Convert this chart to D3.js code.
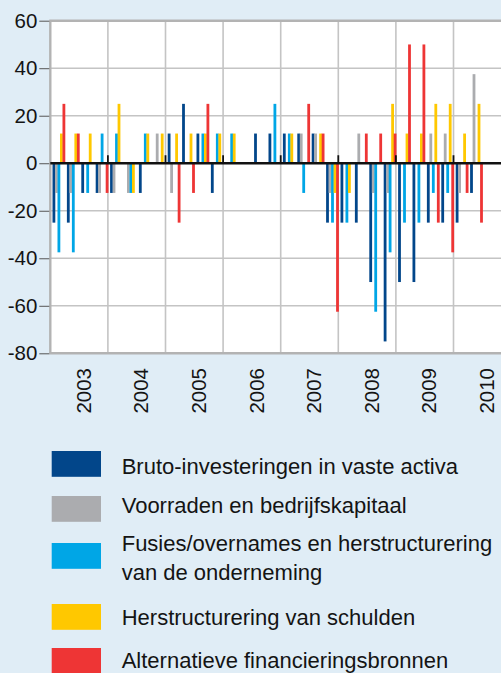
<!DOCTYPE html>
<html>
<head>
<meta charset="utf-8">
<script src="https://cdn.jsdelivr.net/npm/d3@7/dist/d3.min.js"></script>
<style>
  html, body { margin: 0; padding: 0; background: #e0edf6; }
  svg { display: block; }
  text { font-family: "Liberation Sans", Arial, sans-serif; fill: #141414; }
</style>
</head>
<body>
<svg id="chart" width="501" height="673"></svg>
<script>
// ---- data ----
const years = ["2003", "2004", "2005", "2006", "2007", "2008", "2009", "2010"];
const quarterNames = ["Q1", "Q2", "Q3", "Q4"];
const seriesNames = [
  "Bruto-investeringen in vaste activa",
  "Voorraden en bedrijfskapitaal",
  "Fusies/overnames en herstructurering van de onderneming",
  "Herstructurering van schulden",
  "Alternatieve financieringsbronnen"
];
const legendLines = [
  ["Bruto-investeringen in vaste activa"],
  ["Voorraden en bedrijfskapitaal"],
  ["Fusies/overnames en herstructurering", "van de onderneming"],
  ["Herstructurering van schulden"],
  ["Alternatieve financieringsbronnen"]
];
// quarterly values 2003Q1 ... 2010Q2
const brutoInvesteringen = [-25, -25, -12.5, -12.5, -12.5, 0, -12.5, 0, 12.5, 25, 12.5, -12.5, 0, 0, 12.5, 12.5, 12.5, 12.5, 12.5, -25, -25, -25, -50, -75, -50, -50, -25, -25, -25, -12.5];
const voorraden = [-12.5, -12.5, 0, -12.5, -12.5, -12.5, 0, 12.5, -12.5, 0, 0, 0, 0, 0, 0, 0, 0, 12.5, 12.5, -12.5, 0, 12.5, -12.5, -12.5, 0, 0, 12.5, 12.5, -12.5, 37.5];
const fusies = [-37.5, -37.5, -12.5, 12.5, 12.5, -12.5, 12.5, 0, 0, 0, 12.5, 12.5, 12.5, 0, 0, 25, 12.5, -12.5, 0, -25, -25, 0, -62.5, -37.5, -25, -25, -12.5, -12.5, 0, 0];
const schulden = [12.5, 12.5, 12.5, 0, 25, -12.5, 12.5, 12.5, 12.5, 12.5, 12.5, 12.5, 12.5, 0, 0, 0, 12.5, 0, 12.5, -12.5, -12.5, 0, 0, 25, 12.5, 12.5, 25, 25, 12.5, 25];
const alternatief = [25, 12.5, 0, -12.5, 0, 0, 0, 0, -25, -12.5, 25, 0, 0, 0, 0, 0, 0, 25, 12.5, -62.5, 0, 12.5, 12.5, 12.5, 50, 50, -25, -37.5, -12.5, -25];
const yTicks = [60, 40, 20, 0, -20, -40, -60, -80];
const colors = ["#02468a", "#abacaf", "#00a6e6", "#ffc800", "#ee3535"];

const seriesValues = [brutoInvesteringen, voorraden, fusies, schulden, alternatief];
const allQuarters = [];
years.forEach(yr => quarterNames.forEach(q => allQuarters.push(yr + q)));
const dataQuarters = allQuarters.slice(0, brutoInvesteringen.length);

// ---- layout ----
const svg = d3.select("#chart");
const pLeft = 50.3, pTop = 20.7, pBottom = 353.3;
const yearW = 57.6;
const W = 501;

const x = d3.scaleBand().domain(allQuarters).range([pLeft, pLeft + yearW * 8]).paddingInner(0).paddingOuter(0);
const x1 = d3.scaleBand().domain(d3.range(5)).range([2.2, 14.7]).padding(0);
const y = d3.scaleLinear().domain([-80, 60]).range([pBottom, pTop]);

// plot area
svg.append("rect").attr("x", pLeft).attr("y", pTop).attr("width", W - pLeft).attr("height", pBottom - pTop).attr("fill", "#ffffff");

// horizontal grid
svg.append("g").selectAll("line").data(yTicks.filter(v => v !== 0 && v !== 60 && v !== -80)).join("line")
  .attr("x1", pLeft).attr("x2", W).attr("y1", d => y(d)).attr("y2", d => y(d))
  .attr("stroke", "#c4c4c4").attr("stroke-width", 1.6);
// vertical grid (year boundaries)
svg.append("g").selectAll("line").data(years.slice(1)).join("line")
  .attr("x1", d => x(d + "Q1")).attr("x2", d => x(d + "Q1"))
  .attr("y1", pTop).attr("y2", pBottom)
  .attr("stroke", "#c4c4c4").attr("stroke-width", 1.6);

// borders
svg.append("line").attr("x1", pLeft - 1).attr("x2", W).attr("y1", y(60)).attr("y2", y(60)).attr("stroke", "#b3b3b3").attr("stroke-width", 2.4);
svg.append("line").attr("x1", pLeft - 1).attr("x2", W).attr("y1", y(-80)).attr("y2", y(-80)).attr("stroke", "#b3b3b3").attr("stroke-width", 2.4);
svg.append("line").attr("x1", pLeft).attr("x2", pLeft).attr("y1", pTop).attr("y2", pBottom).attr("stroke", "#b3b3b3").attr("stroke-width", 2.4);

// y axis
const yAxis = d3.axisLeft(y).tickValues(yTicks).tickSize(10).tickPadding(2).tickFormat(d => String(d));
const ga = svg.append("g").attr("transform", `translate(${pLeft - 1},0)`).call(yAxis);
ga.select(".domain").remove();
ga.selectAll(".tick line").attr("stroke", "#555").attr("stroke-width", 1);
ga.selectAll(".tick text").attr("font-size", "20.5px").attr("font-family", "Liberation Sans, Arial, sans-serif").attr("fill", "#141414");

// bars
const gBars = svg.append("g");
seriesValues.forEach((vals, si) => {
  gBars.append("g").selectAll("rect").data(vals.map((v, i) => ({ q: dataQuarters[i], v })).filter(d => d.v !== 0)).join("rect")
    .attr("x", d => x(d.q) + x1(si))
    .attr("width", x1.bandwidth() + 0.3)
    .attr("y", d => y(Math.max(0, d.v)))
    .attr("height", d => Math.abs(y(d.v) - y(0)))
    .attr("fill", colors[si]);
});

// zero line and year ticks
svg.append("line").attr("x1", pLeft).attr("x2", W).attr("y1", y(0)).attr("y2", y(0)).attr("stroke", "#111").attr("stroke-width", 2.6);
svg.append("g").selectAll("line").data(years.slice(1)).join("line")
  .attr("x1", d => x(d + "Q1")).attr("x2", d => x(d + "Q1"))
  .attr("y1", y(0) - 8).attr("y2", y(0))
  .attr("stroke", "#111").attr("stroke-width", 1.8);

// x labels
svg.append("g").selectAll("text").data(years).join("text")
  .attr("transform", d => `translate(${x(d + "Q1") + yearW / 2 + 11.6},368) rotate(-90)`)
  .attr("text-anchor", "end")
  .attr("font-size", "20.5px")
  .text(d => d);

// legend
const legendRows = [
  { sy: 451, base: [474.3] },
  { sy: 496, base: [513] },
  { sy: 543, base: [551, 579.5] },
  { sy: 604, base: [624.5] },
  { sy: 648, base: [668] }
];
const gl = svg.append("g");
legendLines.forEach((lines, i) => {
  gl.append("rect").attr("x", 51.7).attr("y", legendRows[i].sy).attr("width", 49.3).attr("height", 25.8).attr("fill", colors[i]);
  lines.forEach((t, j) => {
    gl.append("text").attr("x", 121.7).attr("y", legendRows[i].base[j]).attr("font-size", "22px").text(t);
  });
});
</script>
</body>
</html>
